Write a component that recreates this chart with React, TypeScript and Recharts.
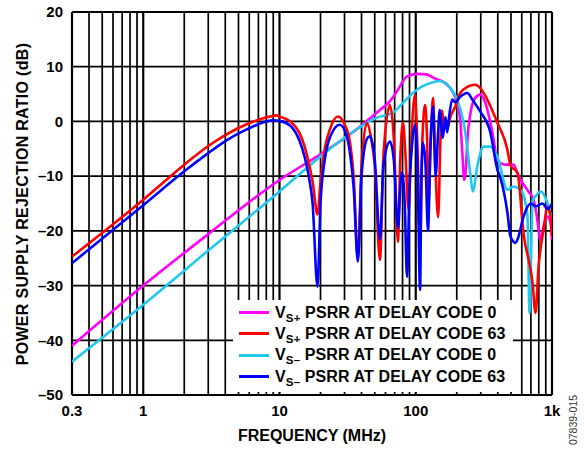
import React from 'react';
import { LineChart, Line, XAxis, YAxis, ReferenceLine } from 'recharts';

const FONT = '"Liberation Sans", Arial, Helvetica, sans-serif';

// grid & ticks
const gridFreqs = [0.3, 0.4, 0.5, 0.6, 0.7, 0.8, 0.9, 1, 2, 3, 4, 5, 6, 7, 8, 9, 10, 20, 30, 40, 50, 60, 70, 80, 90, 100, 200, 300, 400, 500, 600, 700, 800, 900, 1000];
const majorFreqs = [0.3, 1, 10, 100, 1000];
const gridDb = [-50, -40, -30, -20, -10, 0, 10, 20];
const xTicks = [0.3, 1, 10, 100, 1000];
const xTickLabels = ['0.3', '1', '10', '100', '1k'];
const yTicks = [-50, -40, -30, -20, -10, 0, 10, 20];

// VS+ PSRR at delay code 0 (magenta)
const vsPlus0Freq = [0.3, 1, 3, 10, 19.7, 32.8, 54.6, 64.7, 74, 86, 102, 120, 134, 170, 195, 212, 220, 227, 233, 240, 252, 273, 298, 324, 365, 397, 418, 455, 521, 568, 672, 732, 770, 824, 870, 928, 976, 1000];
const vsPlus0Db = [-41, -30, -20.6, -10.7, -6.1, -2.4, 2.1, 3.7, 5.8, 8.2, 8.7, 8.6, 8, 6.7, 4.3, 0.3, -6, -10.7, -9, -3, 1.5, 4.3, 4.9, 3.4, -2, -7, -7.6, -7.9, -7.9, -10, -12.8, -14.3, -17, -21.6, -19, -17.4, -18.6, -21.6];

// VS+ PSRR at delay code 63 (red)
const vsPlus63Freq = [0.3, 1, 2, 3, 4, 5, 7, 8.5, 9.5, 10, 12, 14, 15.3, 16.4, 17.5, 19, 20, 21.5, 23.4, 26.8, 30, 33, 35, 37.6, 40, 43.8, 47, 50, 54.6, 58, 64.7, 69, 74, 77, 80.6, 84, 88.5, 93, 98.8, 103, 107.6, 112, 117, 121, 124, 129, 134, 138, 146, 152, 156, 161, 167, 172, 179, 195, 212, 239, 273, 298, 335, 397, 471, 495, 558, 618, 720, 757, 797, 867, 928, 976, 1000];
const vsPlus63Db = [-24.7, -14.3, -7.9, -4.5, -2.5, -1.2, 0.3, 0.9, 1.1, 0.9, 0, -2.1, -4.6, -7.6, -11, -17, -11, -5, -1.5, 0.9, -0.5, -4, -10, -25, -8, -0.3, -3, -8, -25.3, -6, 3, -3, -22, -7, -0.2, -6, -16, -3, 4.9, -5, -22, -3, 3, -3, -15, -3, 4.3, -5, -17.5, -3, 2, -1, 0, -1, 0.7, 2.7, 5.2, 6.3, 6.7, 6.1, 4, -0.2, -5.2, -8, -9.4, -20.4, -29.5, -35, -26.5, -19.8, -15.6, -17.4, -21];

// VS- PSRR at delay code 0 (cyan)
const vsMinus0Freq = [0.3, 1, 3, 10, 17.5, 31, 51.9, 68, 80.6, 95.5, 110, 127.5, 151, 170, 190, 201, 231, 251, 262, 283, 298, 313, 353, 397, 471, 521, 587, 640, 661, 684, 720, 757, 824, 928, 1000];
const vsMinus0Db = [-43.9, -33.5, -23.6, -12.8, -7.6, -2.7, 0.7, 1.6, 3.4, 5.2, 6.3, 7, 7.4, 6.7, 5.2, 4, -2, -9.4, -12.8, -8.2, -5.8, -4.6, -4.6, -6.4, -12.5, -11.9, -12.5, -15, -17.4, -35, -14.5, -13.7, -12.8, -15, -18];

// VS- PSRR at delay code 63 (blue)
const vsMinus63Freq = [0.3, 1, 2, 3, 4, 5.7, 7, 8, 9, 10, 12, 14, 15.3, 16.4, 17.5, 19, 20, 21.5, 23.4, 27.7, 31, 33, 35, 37.6, 40, 43.8, 46, 50, 54.6, 58, 64.7, 69, 74, 77, 79.3, 83, 86.3, 90, 95, 98.8, 103, 107.6, 110, 113, 118, 123, 128, 134, 140, 146, 150, 158, 165, 170, 176, 185, 195, 212, 239, 260, 298, 353, 397, 418, 471, 495, 539, 560, 618, 696, 760, 850, 930, 1000];
const vsMinus63Db = [-25.9, -15.3, -9.1, -5.8, -3.6, -1.5, -0.5, 0, 0.2, 0.1, -0.8, -3.5, -6.5, -10, -15, -30.2, -15, -7, -3, -0.6, -2.5, -6, -12, -25.6, -10, -3.2, -2.7, -7, -21.6, -8, -3.7, -7, -19.5, -12, -9.4, -15, -28.4, -12, -3, -0.6, -8, -30.8, -10, -3.9, -8, -20, -5, 2.7, -10, -2, 2.1, -3, 0.8, -2, 1, 4, 3.5, 4.5, 5.2, 4, 1.8, -2, -8.8, -10.3, -16.7, -21, -22.2, -21.5, -17.4, -15, -15.5, -15, -16, -15];

const legendSubs = ['S+', 'S+', 'S\u2013', 'S\u2013'];
const legendTexts = [' PSRR AT DELAY CODE 0', ' PSRR AT DELAY CODE 63', ' PSRR AT DELAY CODE 0', ' PSRR AT DELAY CODE 63'];
const seriesColors = ['#FF00FF', '#FF0000', '#1EC8F0', '#0000FF'];

const zip = (f: number[], v: number[]) => f.map((x, i) => ({ f: x, v: v[i] }));

const seriesData = [
  zip(vsPlus0Freq, vsPlus0Db),
  zip(vsMinus0Freq, vsMinus0Db),
  zip(vsPlus63Freq, vsPlus63Db),
  zip(vsMinus63Freq, vsMinus63Db),
];
const drawColors = [seriesColors[0], seriesColors[2], seriesColors[1], seriesColors[3]];

const tickStyle = { fill: '#000', fontSize: 15, fontWeight: 'bold', fontFamily: FONT };

export default function App() {
  return (
    <div style={{ position: 'absolute', left: 0, top: 0, width: 584, height: 450, background: '#fff', fontFamily: FONT }}>
      <LineChart width={584} height={450} margin={{ top: 12, right: 32, bottom: 0, left: 0 }}>
        <XAxis
          type="number"
          dataKey="f"
          scale="log"
          domain={[0.3, 1000]}
          allowDataOverflow
          ticks={xTicks}
          tickFormatter={(v: number) => xTickLabels[xTicks.indexOf(v)] ?? String(v)}
          height={55}
          tickSize={0}
          tickMargin={10}
          axisLine={false}
          tick={tickStyle}
          interval={0}
        />
        <YAxis
          type="number"
          domain={[-50, 20]}
          ticks={yTicks}
          width={72}
          tickSize={0}
          tickMargin={9}
          axisLine={false}
          tick={tickStyle}
          interval={0}
          tickFormatter={(v: number) => String(v).replace('-', '\u2013')}
        />
        {gridFreqs.map((g) => (
          <ReferenceLine key={'gx' + g} x={g} stroke="#000" strokeWidth={majorFreqs.includes(g) ? 2.2 : 1.7} />
        ))}
        {gridDb.map((g) => (
          <ReferenceLine key={'gy' + g} y={g} stroke="#000" strokeWidth={g === -50 || g === 20 ? 2.2 : 1.7} />
        ))}
        {seriesData.map((d, i) => (
          <Line
            key={'s' + i}
            data={d}
            dataKey="v"
            type="monotone"
            stroke={drawColors[i]}
            strokeWidth={2.6}
            dot={false}
            isAnimationActive={false}
          />
        ))}
      </LineChart>

      {/* Legend */}
      <div style={{ position: 'absolute', left: 233, top: 300, width: 280, height: 92, background: '#fff', paddingTop: 2, boxSizing: 'border-box' }}>
        {legendTexts.map((t, i) => (
          <div key={i} style={{ display: 'flex', alignItems: 'center', height: 21.3 }}>
            <div style={{ marginLeft: 6, width: 30, height: 3, background: seriesColors[i] }} />
            <div style={{ marginLeft: 6, fontSize: 16, letterSpacing: 0.1, fontWeight: 'bold', whiteSpace: 'nowrap', color: '#000', lineHeight: '16px' }}>
              V<sub style={{ fontSize: 11.5, letterSpacing: 0.2, verticalAlign: '-4px', lineHeight: 0 }}>{legendSubs[i]}</sub>{t}
            </div>
          </div>
        ))}
      </div>

      {/* Axis titles */}
      <div style={{ position: 'absolute', left: 23, top: 204, transform: 'translate(-50%, -50%) rotate(-90deg)', whiteSpace: 'nowrap', fontSize: 16, letterSpacing: 0.3, fontWeight: 'bold', color: '#000' }}>
        POWER SUPPLY REJECTION RATIO (dB)
      </div>
      <div style={{ position: 'absolute', left: 312, top: 436, transform: 'translate(-50%, -50%)', whiteSpace: 'nowrap', fontSize: 16, fontWeight: 'bold', color: '#000' }}>
        FREQUENCY (MHz)
      </div>
      <div style={{ position: 'absolute', left: 573, top: 420, transform: 'translate(-50%, -50%) rotate(-90deg)', whiteSpace: 'nowrap', fontSize: 10.5, color: '#333' }}>
        07839-015
      </div>
    </div>
  );
}
